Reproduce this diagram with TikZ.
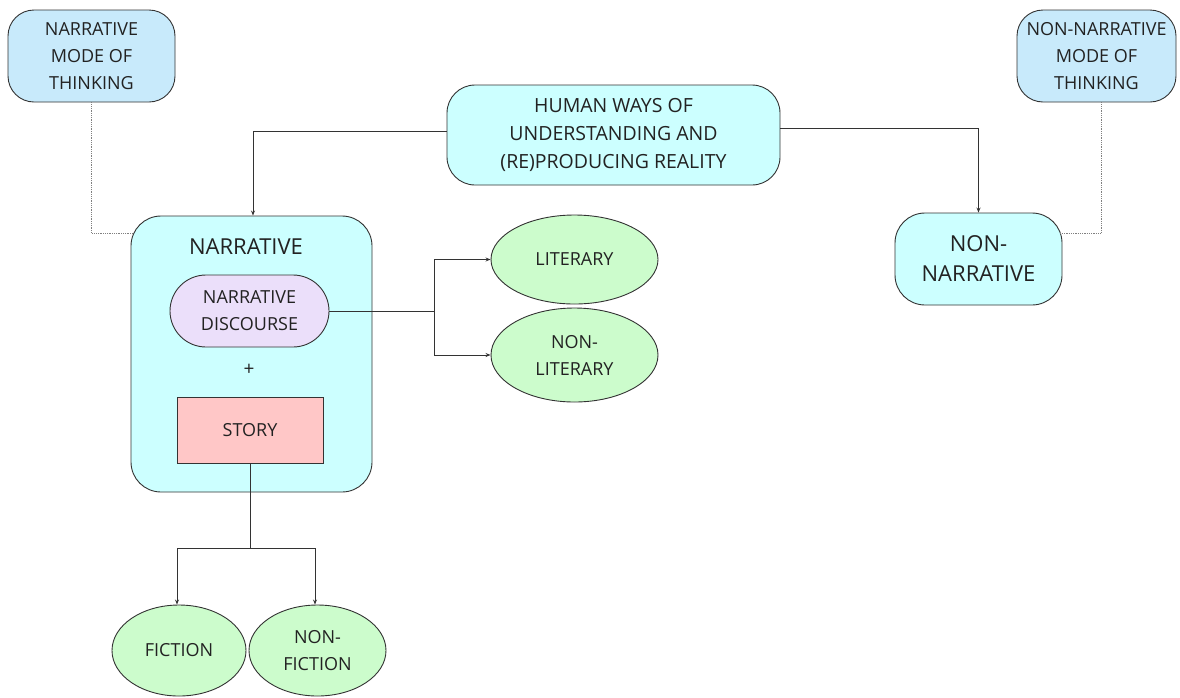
\documentclass[tikz,border=0pt]{standalone}
\usepackage{fontspec}
\setmainfont{Open Sans}
\usetikzlibrary{shapes.geometric,arrows.meta}
\definecolor{modeblue}{HTML}{C8EAFB}
\definecolor{cyanbox}{HTML}{CCFFFF}
\definecolor{lav}{HTML}{EBDFFA}
\definecolor{pinkbox}{HTML}{FFC7C7}
\definecolor{greenell}{HTML}{CCFCCC}
\definecolor{edge}{HTML}{333333}
\definecolor{txt}{HTML}{222222}
\tikzset{
  x=1pt, y=-1pt,
  base/.style={draw=edge, line width=0.9pt, text=txt, align=center, inner sep=0pt,
    font=\fontsize{18}{27}\selectfont},
  rbox/.style={base, rectangle, rounded corners=#1},
  ell/.style={base, ellipse, fill=greenell},
  arr/.style={draw=edge, line width=0.9pt, -{Stealth[length=5pt,width=4pt]}},
  ln/.style={draw=edge, line width=0.9pt},
  dotln/.style={draw=gray, line width=0.8pt, densely dotted},
}
\begin{document}
\begin{tikzpicture}
\useasboundingbox (0,0) rectangle (1180,697);
% nodes
\node[rbox=26pt, fill=modeblue, minimum width=167pt, minimum height=92pt] (nmode) at (91.5,56) {NARRATIVE\\MODE OF\\THINKING};
\node[rbox=26pt, fill=modeblue, minimum width=159pt, minimum height=92pt] (nnmode) at (1096.5,56) {NON-NARRATIVE\\MODE OF\\THINKING};
\node[rbox=28pt, fill=cyanbox, minimum width=333pt, minimum height=100pt, font=\fontsize{19.5}{28}\selectfont] (human) at (613.5,135) {HUMAN WAYS OF\\UNDERSTANDING AND\\(RE)PRODUCING REALITY};
\node[rbox=30pt, fill=cyanbox, minimum width=241pt, minimum height=276pt] (narr) at (251.5,354) {};
\node[text=txt, font=\fontsize{22}{26}\selectfont, inner sep=0pt] (narrtitle) at (246,247) {NARRATIVE};
\node[rbox=36pt, fill=lav, minimum width=159pt, minimum height=72pt] (disc) at (249.5,311) {NARRATIVE\\DISCOURSE};
\node[text=txt, font=\fontsize{19}{22}\selectfont, inner sep=0pt] (plus) at (249,370) {+};
\node[base, rectangle, fill=pinkbox, minimum width=146pt, minimum height=66pt] (story) at (250,430) {STORY};
\node[rbox=30pt, fill=cyanbox, minimum width=167pt, minimum height=92pt, font=\fontsize{22}{30}\selectfont] (nonnarr) at (978.5,259) {NON-\\NARRATIVE};
\node[ell, minimum width=167pt, minimum height=89pt] (lit) at (574.5,259.5) {LITERARY};
\node[ell, minimum width=167pt, minimum height=94pt] (nonlit) at (574.5,355) {NON-\\LITERARY};
\node[ell, minimum width=134pt, minimum height=91pt] (fic) at (179,650.5) {FICTION};
\node[ell, minimum width=137pt, minimum height=91pt] (nonfic) at (317.5,650.5) {NON-\\FICTION};
% connectors
\draw[arr] ([yshift=4pt]human.west) -| ([xshift=1.5pt]narr.north);
\draw[arr] ([yshift=7pt]human.east) -| (nonnarr.north);
\coordinate (j1) at (434,311);
\draw[ln] (disc.east) -- (j1);
\draw[arr] (j1) |- (lit.west);
\draw[arr] (j1) |- (nonlit.west);
\coordinate (j2) at (250,548);
\draw[ln] (story.south) -- (j2);
\draw[arr] (j2) -| ([xshift=-2pt]fic.north);
\draw[arr] (j2) -| ([xshift=-2.5pt]nonfic.north);
\coordinate (d1) at (91.5,233);
\draw[dotln] (nmode.south) -- (d1) -- ([xshift=3pt,yshift=121pt]narr.west);
\coordinate (d2) at (1101.5,233);
\draw[dotln] ([xshift=5pt]nnmode.south) -- (d2) -- ([xshift=-2pt,yshift=26pt]nonnarr.east);
\end{tikzpicture}
\end{document}
